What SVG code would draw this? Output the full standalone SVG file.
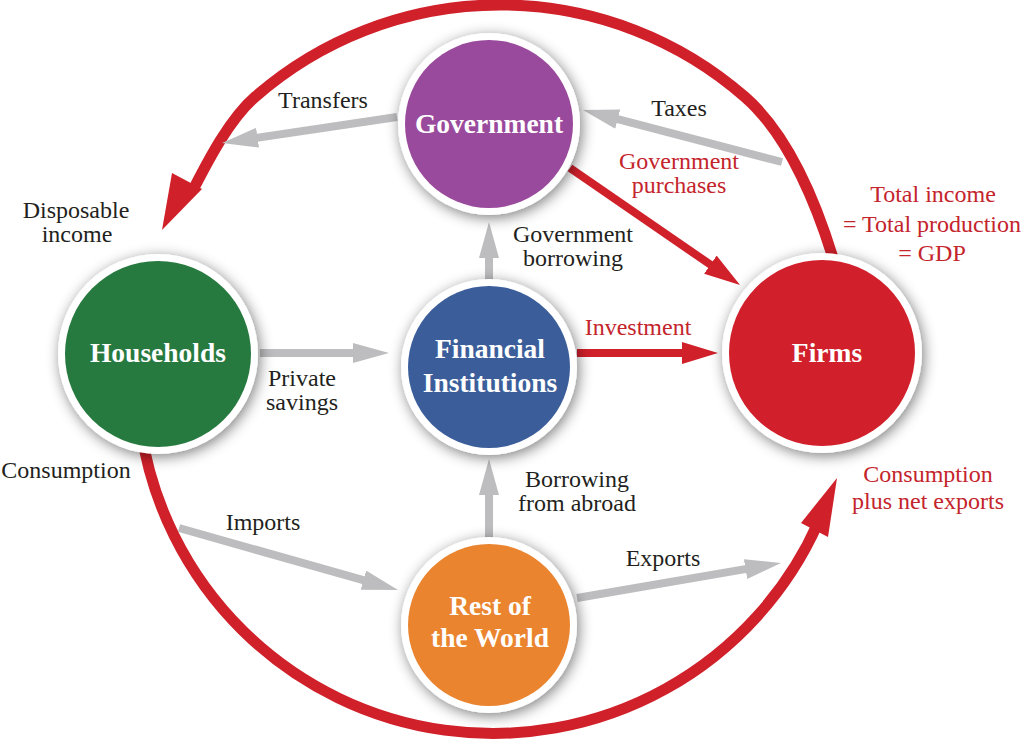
<svg xmlns="http://www.w3.org/2000/svg" width="1024" height="744" viewBox="0 0 1024 744">
<defs>
<style>
.lbl{font-size:24px;fill:#231f20;text-anchor:middle}
.red{fill:#c4242c}
.nt{font-weight:bold;font-size:27.5px;fill:#ffffff;text-anchor:middle}
.ring{fill:#ffffff;filter:url(#sh)}
.g{stroke:#bdbdbf;stroke-width:8;fill:none;marker-end:url(#ag)}
.r{stroke:#d0202a;stroke-width:8;fill:none;marker-end:url(#ar)}
.big{stroke:#d0202a;stroke-width:11;fill:none}
.bh{fill:#d0202a}
</style>
<filter id="sh" x="-30%" y="-30%" width="160%" height="160%">
<feGaussianBlur in="SourceAlpha" stdDeviation="7"/>
<feOffset dx="2" dy="3" result="b"/>
<feFlood flood-color="#000000" flood-opacity="0.5"/>
<feComposite in2="b" operator="in"/>
<feMerge><feMergeNode/><feMergeNode in="SourceGraphic"/></feMerge>
</filter>
<marker id="ag" viewBox="0 0 36 20" markerWidth="36" markerHeight="20" refX="10" refY="10" orient="auto" markerUnits="userSpaceOnUse"><path d="M0,0 L36,10 L0,20 z" fill="#bdbdbf"/></marker>
<marker id="ar" viewBox="0 0 36 22" markerWidth="36" markerHeight="22" refX="10" refY="11" orient="auto" markerUnits="userSpaceOnUse"><path d="M0,0 L36,11 L0,22 z" fill="#d0202a"/></marker>
</defs>
<rect width="1024" height="744" fill="#ffffff"/>

<g id="connectors">
<path class="big" d="M 836 268 C 819.2 210.4 790.2 136.5 745 97 A 372 372 0 0 0 255 97 C 228.6 120 206.8 163.3 193 190"/>
<polygon class="bh" points="162,230 172,173 202,189"/>
<path class="big" d="M 141 430 A 356 356 0 0 0 818 523"/>
<polygon class="bh" points="837,478 801,523 828,537"/>
<line class="g" x1="397" y1="117" x2="247.7" y2="139.2"/>
<line class="g" x1="782" y1="162" x2="608.1" y2="116.6"/>
<line class="g" x1="489" y1="282" x2="489" y2="248"/>
<line class="g" x1="260" y1="353" x2="363" y2="353"/>
<line class="g" x1="489" y1="538" x2="489" y2="485"/>
<line class="g" x1="179" y1="528" x2="373" y2="582.9"/>
<line class="g" x1="577" y1="598" x2="755.4" y2="567.4"/>
<line class="r" x1="570" y1="168" x2="718.6" y2="270.3"/>
<line class="r" x1="577" y1="353" x2="692" y2="353"/>
</g>

<g font-family="'Liberation Serif', 'DejaVu Serif', serif">
<g id="government">
<circle class="ring" cx="489" cy="124" r="91"/>
<circle cx="489" cy="124" r="84" fill="#9a4a9c"/>
<text class="nt" x="489" y="133">Government</text>
</g>
<g id="households">
<circle class="ring" cx="158" cy="354" r="100"/>
<circle cx="158" cy="354" r="93" fill="#277a3f"/>
<text class="nt" x="158" y="362">Households</text>
</g>
<g id="financial">
<circle class="ring" cx="489" cy="367" r="88"/>
<circle cx="489" cy="367" r="81" fill="#3b5e9b"/>
<text class="nt" x="490" y="358">Financial</text>
<text class="nt" x="490" y="392">Institutions</text>
</g>
<g id="firms">
<circle class="ring" cx="822" cy="353" r="100"/>
<circle cx="822" cy="353" r="93" fill="#d11f2b"/>
<text class="nt" x="827" y="362">Firms</text>
</g>
<g id="rest-of-world">
<circle class="ring" cx="489" cy="625" r="88"/>
<circle cx="489" cy="625" r="81" fill="#ea842e"/>
<text class="nt" x="490" y="615" font-size="26">Rest of</text>
<text class="nt" x="490" y="647" font-size="26">the World</text>
</g>

<g id="labels">
<text class="lbl" x="323" y="108">Transfers</text>
<text class="lbl" x="679" y="116">Taxes</text>
<text class="lbl red" x="679" y="169">Government</text>
<text class="lbl red" x="679" y="193">purchases</text>
<text class="lbl red" x="933" y="202">Total income</text>
<text class="lbl red" x="932" y="232">= Total production</text>
<text class="lbl red" x="932" y="261">= GDP</text>
<text class="lbl" x="76" y="218">Disposable</text>
<text class="lbl" x="77" y="242">income</text>
<text class="lbl" x="573" y="242">Government</text>
<text class="lbl" x="573" y="266">borrowing</text>
<text class="lbl red" x="638" y="335">Investment</text>
<text class="lbl" x="302" y="386">Private</text>
<text class="lbl" x="302" y="410">savings</text>
<text class="lbl" x="66" y="478">Consumption</text>
<text class="lbl red" x="928" y="482">Consumption</text>
<text class="lbl red" x="928" y="509">plus net exports</text>
<text class="lbl" x="577" y="487">Borrowing</text>
<text class="lbl" x="577" y="511">from abroad</text>
<text class="lbl" x="263" y="530">Imports</text>
<text class="lbl" x="663" y="566">Exports</text>
</g>
</g>
</svg>
